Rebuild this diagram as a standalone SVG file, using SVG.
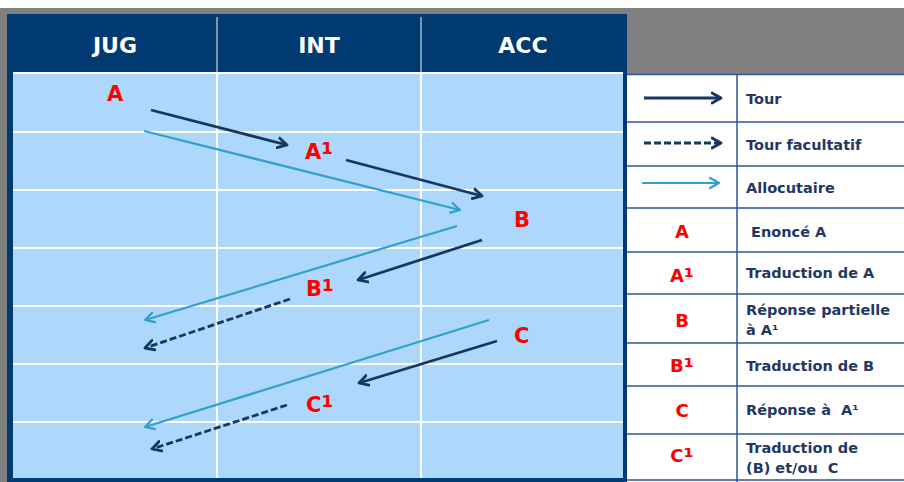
<svg xmlns="http://www.w3.org/2000/svg" width="904" height="482" viewBox="0 0 904 482">
<style>
.hdr{font-family:"DejaVu Sans","Verdana",sans-serif;font-weight:bold;font-size:22px;fill:#ffffff;text-anchor:middle}
.lbl{font-family:"DejaVu Sans","Verdana",sans-serif;font-weight:bold;font-size:21px;fill:#ff0000}
.sym{font-family:"DejaVu Sans","Verdana",sans-serif;font-weight:bold;font-size:18px;fill:#ff0000;text-anchor:middle}
.leg{font-family:"DejaVu Sans","Verdana",sans-serif;font-weight:bold;font-size:14.5px;fill:#1f3864}
.sup{font-size:1.3em}
.grid{stroke:#ffffff;stroke-width:2}
.lgrid{stroke:#2f5597;stroke-width:1.5}
.tour{stroke:#17375e;stroke-width:2.8;fill:none;marker-end:url(#hd)}
.fac{stroke:#17375e;stroke-width:2.8;fill:none;stroke-dasharray:7 3;marker-end:url(#hd)}
.allo{stroke:#31a0cf;stroke-width:2.2;fill:none;marker-end:url(#ha)}
</style>
<defs>
<marker id="hd" markerUnits="userSpaceOnUse" markerWidth="14" markerHeight="14" refX="10" refY="6" orient="auto" viewBox="0 0 14 12">
<path d="M1,1 L10,6 L1,11" fill="none" stroke="#17375e" stroke-width="2.8" stroke-linecap="round" stroke-linejoin="round"/>
</marker>
<marker id="ha" markerUnits="userSpaceOnUse" markerWidth="14" markerHeight="14" refX="10" refY="6" orient="auto" viewBox="0 0 14 12">
<path d="M1,1 L10,6 L1,11" fill="none" stroke="#31a0cf" stroke-width="2.2" stroke-linecap="round" stroke-linejoin="round"/>
</marker>
</defs>
<!-- background -->
<rect x="0" y="0" width="904" height="482" fill="#ffffff"/>
<rect x="0" y="8" width="904" height="474" fill="#808080"/>
<!-- main table -->
<g id="table">
<rect x="7" y="14" width="620" height="468" fill="#003a70"/>
<rect x="13" y="72" width="610" height="406" fill="#aed8fb"/>
<line x1="13" y1="73" x2="623" y2="73" class="grid"/>
<line x1="217" y1="17" x2="217" y2="72" stroke="#c8d8ea" stroke-width="1.2"/>
<line x1="421" y1="17" x2="421" y2="72" stroke="#c8d8ea" stroke-width="1.2"/>
<line x1="217" y1="72" x2="217" y2="478" class="grid"/>
<line x1="421" y1="72" x2="421" y2="478" class="grid"/>
<line x1="13" y1="132" x2="623" y2="132" class="grid"/>
<line x1="13" y1="190" x2="623" y2="190" class="grid"/>
<line x1="13" y1="248" x2="623" y2="248" class="grid"/>
<line x1="13" y1="306" x2="623" y2="306" class="grid"/>
<line x1="13" y1="364" x2="623" y2="364" class="grid"/>
<line x1="13" y1="422" x2="623" y2="422" class="grid"/>
</g>
<g id="col-jug"><text x="115" y="53" class="hdr">JUG</text></g>
<g id="col-int"><text x="319" y="53" class="hdr">INT</text></g>
<g id="col-acc"><text x="523" y="53" class="hdr">ACC</text></g>
<!-- nodes -->
<g id="node-A"><text x="107" y="101" class="lbl">A</text></g>
<g id="node-A1"><text x="305" y="159" class="lbl">A<tspan class="sup" dy="4">¹</tspan></text></g>
<g id="node-B"><text x="514" y="227" class="lbl">B</text></g>
<g id="node-B1"><text x="306" y="296" class="lbl">B<tspan class="sup" dy="4">¹</tspan></text></g>
<g id="node-C"><text x="514" y="343" class="lbl">C</text></g>
<g id="node-C1"><text x="306" y="412" class="lbl">C<tspan class="sup" dy="4">¹</tspan></text></g>
<!-- connectors -->
<g id="connectors">
<path class="tour" d="M151,110 L287,145"/>
<path class="allo" d="M144,131 L460,210"/>
<path class="tour" d="M346,160 L482,196"/>
<path class="allo" d="M457,226 L145,320"/>
<path class="tour" d="M482,240 L358,280"/>
<path class="fac" d="M290,299 L145,348"/>
<path class="allo" d="M489,320 L145,427"/>
<path class="tour" d="M497,341 L359,383"/>
<path class="fac" d="M287,405 L152,449"/>
</g>
<!-- legend -->
<g id="legend">
<rect x="627" y="74" width="277" height="408" fill="#ffffff"/>
<line x1="627" y1="74.5" x2="904" y2="74.5" class="lgrid"/>
<line x1="627" y1="122" x2="904" y2="122" class="lgrid"/>
<line x1="627" y1="166" x2="904" y2="166" class="lgrid"/>
<line x1="627" y1="208" x2="904" y2="208" class="lgrid"/>
<line x1="627" y1="252" x2="904" y2="252" class="lgrid"/>
<line x1="627" y1="294" x2="904" y2="294" class="lgrid"/>
<line x1="627" y1="343" x2="904" y2="343" class="lgrid"/>
<line x1="627" y1="386" x2="904" y2="386" class="lgrid"/>
<line x1="627" y1="434" x2="904" y2="434" class="lgrid"/>
<line x1="627" y1="480" x2="904" y2="480" class="lgrid"/>
<line x1="737" y1="74" x2="737" y2="482" class="lgrid"/>
</g>
<g id="legend-tour">
<path class="tour" d="M644,98 L721,98"/>
<text x="746" y="104" class="leg">Tour</text>
</g>
<g id="legend-facultatif">
<path class="fac" d="M644,143 L721,143"/>
<text x="746" y="150" class="leg">Tour facultatif</text>
</g>
<g id="legend-allocutaire">
<path class="allo" d="M642,183 L719,183"/>
<text x="746" y="193" class="leg">Allocutaire</text>
</g>
<g id="legend-A">
<text x="682" y="238" class="sym">A</text>
<text x="746" y="237" class="leg" xml:space="preserve"> Enoncé A</text>
</g>
<g id="legend-A1">
<text x="682" y="282" class="sym">A<tspan class="sup" dy="3">¹</tspan></text>
<text x="746" y="278" class="leg">Traduction de A</text>
</g>
<g id="legend-B">
<text x="682" y="327" class="sym">B</text>
<text x="746" y="315" class="leg">Réponse partielle</text>
<text x="746" y="335" class="leg">à A¹</text>
</g>
<g id="legend-B1">
<text x="682" y="372" class="sym">B<tspan class="sup" dy="3">¹</tspan></text>
<text x="746" y="371" class="leg">Traduction de B</text>
</g>
<g id="legend-C">
<text x="682" y="417" class="sym">C</text>
<text x="746" y="415" class="leg" xml:space="preserve">Réponse à  A¹</text>
</g>
<g id="legend-C1">
<text x="682" y="462" class="sym">C<tspan class="sup" dy="3">¹</tspan></text>
<text x="746" y="453" class="leg">Traduction de</text>
<text x="746" y="473" class="leg" xml:space="preserve">(B) et/ou  C</text>
</g>
</svg>
